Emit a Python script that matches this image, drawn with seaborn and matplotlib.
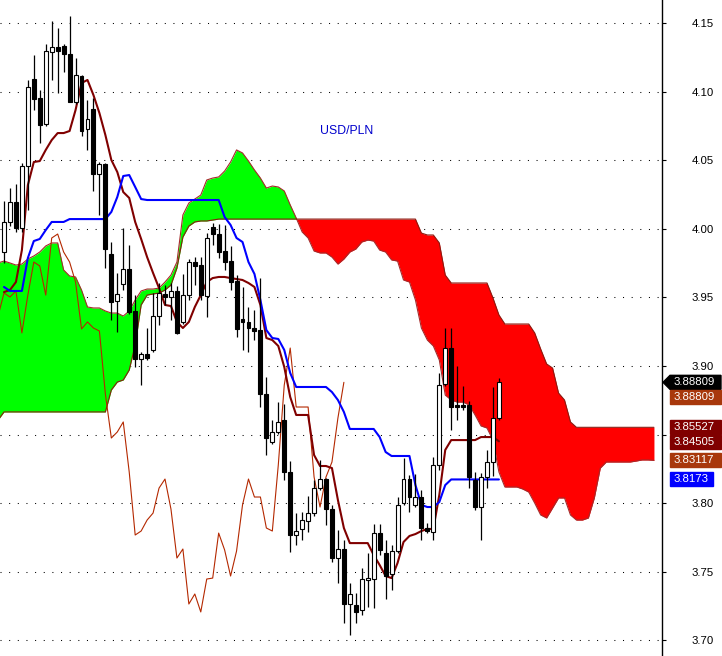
import matplotlib
matplotlib.use("Agg")
import numpy as np
import matplotlib.pyplot as plt
import seaborn as sns
from matplotlib.patches import Rectangle, Polygon
from matplotlib.transforms import IdentityTransform

# daily candles (USD/PLN)
opens = [3.9831, 4.0050, 4.0195, 4.0006, 4.0458, 4.1092, 4.0954, 4.0764, 4.1289, 4.1325,
         4.1333, 4.1274, 4.0924, 4.1114, 4.0728, 4.0873, 4.0400, 4.0472, 3.9816, 3.9474,
         3.9598, 3.9707, 3.9401, 3.9051, 3.9087, 3.9117, 3.9364, 3.9525, 3.9503, 3.9547,
         3.9321, 3.9517, 3.9758, 3.9736, 3.9510, 4.0013, 3.9962, 3.9838, 3.9765, 3.9620,
         3.9343, 3.9321, 3.9277, 3.9262, 3.8796, 3.8446, 3.8519, 3.8606, 3.8227, 3.7768,
         3.7812, 3.7870, 3.7928, 3.8110, 3.8176, 3.7957, 3.7600, 3.7666, 3.7265, 3.7258,
         3.7221, 3.7440, 3.7447, 3.7782, 3.7637, 3.7484, 3.7651, 3.8001, 3.8176, 3.7987,
         3.8045, 3.7819, 3.7790, 3.8278, 3.8869, 3.9131, 3.8716, 3.8716, 3.8716, 3.8169,
         3.7972, 3.8191, 3.8300, 3.8621]
highs = [4.0203, 4.0297, 4.0327, 4.0480, 4.1085, 4.1267, 4.1012, 4.1347, 4.1515, 4.1464,
         4.1347, 4.1551, 4.1245, 4.1118, 4.0939, 4.0954, 4.0487, 4.0480, 3.9904, 3.9678,
         4.0006, 3.9882, 3.9517, 3.9102, 3.9277, 3.9532, 3.9605, 3.9590, 3.9605, 3.9583,
         3.9671, 3.9780, 3.9794, 3.9794, 3.9969, 4.0042, 4.0035, 4.0028, 3.9875, 3.9663,
         3.9576, 3.9430, 3.9408, 3.9641, 3.8920, 3.8606, 3.8737, 3.8723, 3.8307, 3.7928,
         3.7936, 3.8052, 3.8169, 3.8315, 3.8184, 3.7987, 3.7804, 3.7731, 3.7418, 3.7345,
         3.7527, 3.7637, 3.7848, 3.7848, 3.7731, 3.7695, 3.8045, 3.8329, 3.8206, 3.8213,
         3.8096, 3.7855, 3.8337, 3.8949, 3.9277, 3.9277, 3.9000, 3.8854, 3.8745, 3.8227,
         3.8220, 3.8388, 3.8847, 3.8912]
lows = [3.9751, 4.0020, 3.9977, 3.9977, 4.0137, 4.0866, 4.0626, 4.0749, 4.1085, 4.0990,
        4.1143, 4.0924, 4.0910, 4.0677, 4.0575, 4.0276, 4.0101, 3.9714, 3.9335, 3.9248,
        3.9554, 3.9379, 3.8993, 3.8861, 3.9044, 3.9102, 3.9299, 3.9445, 3.9335, 3.9233,
        3.9306, 3.9481, 3.9590, 3.9481, 3.9357, 3.9882, 3.9787, 3.9700, 3.9554, 3.9211,
        3.9117, 3.9102, 3.9189, 3.8701, 3.8351, 3.8431, 3.8504, 3.8169, 3.7644, 3.7695,
        3.7731, 3.7790, 3.7906, 3.8096, 3.7841, 3.7571, 3.7418, 3.7126, 3.7039, 3.7126,
        3.7185, 3.7243, 3.7236, 3.7622, 3.7301, 3.7367, 3.7637, 3.7987, 3.7936, 3.7972,
        3.7731, 3.7782, 3.7731, 3.8242, 3.8854, 3.8533, 3.8606, 3.8679, 3.8110, 3.7950,
        3.7731, 3.8110, 3.8198, 3.8606]
closes = [4.0050, 4.0195, 4.0006, 4.0458, 4.1034, 4.0946, 4.0757, 4.1296, 4.1325, 4.1296,
          4.1274, 4.0924, 4.1121, 4.0713, 4.0800, 4.0400, 4.0472, 3.9853, 3.9466, 3.9525,
          3.9707, 3.9393, 3.9051, 3.9087, 3.9058, 3.9364, 3.9532, 3.9503, 3.9547, 3.9241,
          3.9517, 3.9758, 3.9729, 3.9517, 3.9933, 3.9962, 3.9831, 3.9758, 3.9612, 3.9270,
          3.9321, 3.9277, 3.9255, 3.8796, 3.8475, 3.8519, 3.8592, 3.8227, 3.7768, 3.7797,
          3.7877, 3.7928, 3.8110, 3.8176, 3.7957, 3.7600, 3.7666, 3.7265, 3.7338, 3.7207,
          3.7447, 3.7454, 3.7782, 3.7659, 3.7469, 3.7651, 3.7987, 3.8176, 3.8045, 3.8045,
          3.7819, 3.7797, 3.8278, 3.8861, 3.9131, 3.8701, 3.8701, 3.8701, 3.8191, 3.7972,
          3.8191, 3.8300, 3.8621, 3.8881]

# ichimoku lines
tenkan = [3.9539, 3.9554, 3.9612, 3.9845, 4.0319, 4.0487, 4.0494, 4.0575, 4.0647, 4.0698,
          4.0698, 4.0713, 4.0866, 4.1063, 4.1085, 4.0975, 4.0844, 4.0684, 4.0502, 4.0414,
          4.0268, 4.0225, 4.0050, 3.9926, 3.9794, 3.9678, 3.9568, 3.9445, 3.9437, 3.9321,
          3.9277, 3.9321, 3.9430, 3.9517, 3.9612, 3.9641, 3.9649, 3.9649, 3.9641, 3.9634,
          3.9627, 3.9605, 3.9576, 3.9445, 3.9204, 3.9189, 3.9146, 3.8993, 3.8774, 3.8643,
          3.8643, 3.8643, 3.8351, 3.8271, 3.8271, 3.8256, 3.8023, 3.7819, 3.7709, 3.7709,
          3.7709, 3.7709, 3.7622, 3.7549, 3.7469, 3.7454, 3.7564, 3.7717, 3.7761, 3.7775,
          3.7797, 3.7812, 3.7812, 3.8059, 3.8388, 3.8460, 3.8460, 3.8460, 3.8460, 3.8460,
          3.8482, 3.8482, 3.8482, 3.8451]
kijun = [3.9576, 3.9547, 3.9547, 3.9547, 3.9787, 3.9911, 3.9926, 3.9991, 4.0050, 4.0050,
         4.0050, 4.0071, 4.0071, 4.0071, 4.0071, 4.0071, 4.0071, 4.0071, 4.0123, 4.0232,
         4.0385, 4.0392, 4.0305, 4.0217, 4.0210, 4.0210, 4.0210, 4.0210, 4.0210, 4.0210,
         4.0210, 4.0210, 4.0210, 4.0210, 4.0210, 4.0210, 4.0210, 4.0086, 4.0028, 3.9933,
         3.9904, 3.9758, 3.9671, 3.9481, 3.9262, 3.9204, 3.9197, 3.9117, 3.8949, 3.8847,
         3.8847, 3.8847, 3.8847, 3.8847, 3.8847, 3.8810, 3.8752, 3.8665, 3.8541, 3.8541,
         3.8541, 3.8541, 3.8541, 3.8482, 3.8373, 3.8344, 3.8344, 3.8344, 3.8344, 3.8132,
         3.7987, 3.7972, 3.7972, 3.8008, 3.8132, 3.8173, 3.8173, 3.8173, 3.8173, 3.8173,
         3.8173, 3.8173, 3.8173, 3.8173]
# senkou spans start one bar before the first visible candle
senkou_a = [3.9751,
            3.9765, 3.9751, 3.9736, 3.9743, 3.9780, 3.9802, 3.9831, 3.9875, 3.9897, 3.9897,
            3.9700, 3.9656, 3.9649, 3.9554, 3.9430, 3.9423, 3.9423, 3.9401, 3.9386, 3.9386,
            3.9364, 3.9401, 3.9481, 3.9547, 3.9561, 3.9561, 3.9568, 3.9612, 3.9663, 3.9758,
            4.0101, 4.0188, 4.0217, 4.0246, 4.0356, 4.0370, 4.0378, 4.0421, 4.0487, 4.0575,
            4.0553, 4.0494, 4.0429, 4.0370, 4.0297, 4.0312, 4.0305, 4.0276, 4.0174, 4.0079,
            3.9977, 3.9933, 3.9838, 3.9824, 3.9824, 3.9794, 3.9743, 3.9780, 3.9831, 3.9853,
            3.9904, 3.9918, 3.9911, 3.9845, 3.9831, 3.9773, 3.9765, 3.9627, 3.9612, 3.9481,
            3.9277, 3.9189, 3.9146, 3.9044, 3.8788, 3.8752, 3.8737, 3.8737, 3.8716, 3.8643,
            3.8563, 3.8548, 3.8460, 3.8227, 3.8118, 3.8118, 3.8118, 3.8103, 3.8081, 3.8001,
            3.7914, 3.7892, 3.7965, 3.8038, 3.8038, 3.7914, 3.7877, 3.7877, 3.7892, 3.8038,
            3.8256, 3.8300, 3.8300, 3.8300, 3.8300, 3.8300, 3.8307, 3.8315, 3.8315, 3.8312]
senkou_b = [3.8606,
            3.8665, 3.8665, 3.8665, 3.8665, 3.8665, 3.8665, 3.8665, 3.8665, 3.8665, 3.8665,
            3.8665, 3.8665, 3.8665, 3.8665, 3.8665, 3.8665, 3.8665, 3.8665, 3.8825, 3.8883,
            3.8898, 3.8971, 3.9153, 3.9445, 3.9517, 3.9525, 3.9532, 3.9554, 3.9590, 3.9714,
            3.9940, 4.0020, 4.0050, 4.0057, 4.0057, 4.0064, 4.0071, 4.0071, 4.0071, 4.0071,
            4.0071, 4.0071, 4.0071, 4.0071, 4.0071, 4.0071, 4.0071, 4.0071, 4.0071, 4.0071,
            4.0071, 4.0071, 4.0071, 4.0071, 4.0071, 4.0071, 4.0071, 4.0071, 4.0071, 4.0071,
            4.0071, 4.0071, 4.0071, 4.0071, 4.0071, 4.0071, 4.0071, 4.0071, 4.0071, 4.0071,
            3.9969, 3.9955, 3.9955, 3.9897, 3.9663, 3.9605, 3.9605, 3.9605, 3.9605, 3.9605,
            3.9605, 3.9605, 3.9496, 3.9372, 3.9306, 3.9306, 3.9306, 3.9306, 3.9306, 3.9241,
            3.9124, 3.9015, 3.8985, 3.8803, 3.8752, 3.8592, 3.8553, 3.8553, 3.8553, 3.8553,
            3.8553, 3.8553, 3.8553, 3.8553, 3.8553, 3.8553, 3.8553, 3.8553, 3.8553, 3.8553]
chikou_shift = 26

yticks = [3.70, 3.75, 3.80, 3.85, 3.90, 3.95, 4.00, 4.05, 4.10, 4.15]
# the 3.85 label sits under the price boxes in the original, so it stays blank
ytick_labels = ["3.70", "3.75", "3.80", "", "3.90", "3.95", "4.00", "4.05", "4.10", "4.15"]
label_values = [3.88809, 3.88809, 3.85527, 3.84505, 3.83117, 3.8173]
label_texts = ["3.88809", "3.88809", "3.85527", "3.84505", "3.83117", "3.8173"]
label_colors = ["#000000", "#a8380c", "#800000", "#800000", "#a8380c", "#0000ff"]
title = "USD/PLN"

sns.set_style("white")
plt.rcParams["font.family"] = ["Liberation Sans", "DejaVu Sans"]

W, H = 722, 656
fig = plt.figure(figsize=(W / 100, H / 100), dpi=100)
ax = fig.add_axes([0, 0, 662 / W, 1])

n = len(closes)
xc = np.arange(n)
xs = np.arange(len(senkou_a)) - 1
a = np.array(senkou_a)
b = np.array(senkou_b)

# cloud
ax.fill_between(xs, a, b, where=a >= b, interpolate=True, color="#00ff00", lw=0, zorder=1)
ax.fill_between(xs, a, b, where=a < b, interpolate=True, color="#ff0000", lw=0, zorder=1)
sns.lineplot(x=xs, y=a, ax=ax, color="#a52a2a", lw=0.8, sort=False, estimator=None, zorder=2)
sns.lineplot(x=xs, y=b, ax=ax, color="#8b1a10", lw=0.8, sort=False, estimator=None, zorder=2)

# lagging span, tenkan, kijun
sns.lineplot(x=xc - chikou_shift, y=closes, ax=ax, color="#b42800", lw=0.8,
             sort=False, estimator=None, zorder=3)
sns.lineplot(x=xc, y=tenkan, ax=ax, color="#800000", lw=1.5, sort=False, estimator=None, zorder=3)
sns.lineplot(x=xc, y=kijun, ax=ax, color="#0000ff", lw=1.5, sort=False, estimator=None, zorder=3)

# candles
o = np.array(opens)
c = np.array(closes)
up = c >= o
ax.vlines(xc, lows, highs, color="black", lw=0.9, zorder=4)
body_lo = np.minimum(o, c)
body_h = np.maximum(np.abs(c - o), 0.0008)
ax.bar(xc, body_h, bottom=body_lo, width=0.66, color=np.where(up, "white", "black"),
       edgecolor="black", linewidth=0.8, zorder=5)

ax.text(57.4, 4.0713, title, color="#0000cc", fontsize=8.8, ha="center", va="center")

ax.set_xlim(-0.671, 110.35)
ax.set_ylim(3.6886, 4.1668)
ax.set_yticks(yticks)
ax.set_yticklabels(ytick_labels)
ax.yaxis.tick_right()
ax.set_xticks([])
ax.tick_params(axis="y", direction="out", length=3, width=0.8, pad=18.5,
               labelsize=8.2, colors="black")
ax.grid(axis="y", color="black", lw=0.75, linestyle=(0, (1, 7.3)), zorder=0)
ax.set_axisbelow(True)
for s in ["top", "left", "bottom"]:
    ax.spines[s].set_visible(False)
ax.spines["right"].set_color("black")
ax.spines["right"].set_linewidth(1.0)
ax.set_xlabel("")
ax.set_ylabel("")
if ax.get_legend():
    ax.get_legend().remove()

# price boxes on the right
ident = IdentityTransform()
prev = None
for val, txt, col in zip(label_values, label_texts, label_colors):
    yc = ax.transData.transform((0, val))[1]
    if prev is not None and prev - yc < 15:
        yc = prev - 15
    prev = yc
    w = 43 if len(txt) < 7 else 51
    if col == "#000000":
        poly = Polygon([(663, yc), (670, yc + 7), (721, yc + 7), (721, yc - 7), (670, yc - 7)],
                       closed=True, transform=ident, color=col)
        fig.add_artist(poly)
    else:
        fig.add_artist(Rectangle((670, yc - 7), w, 14, transform=ident, color=col))
    fig.text(674, yc, txt, transform=ident, color="white", fontsize=8.2, va="center", ha="left")

fig.savefig("out.png", dpi=100)
